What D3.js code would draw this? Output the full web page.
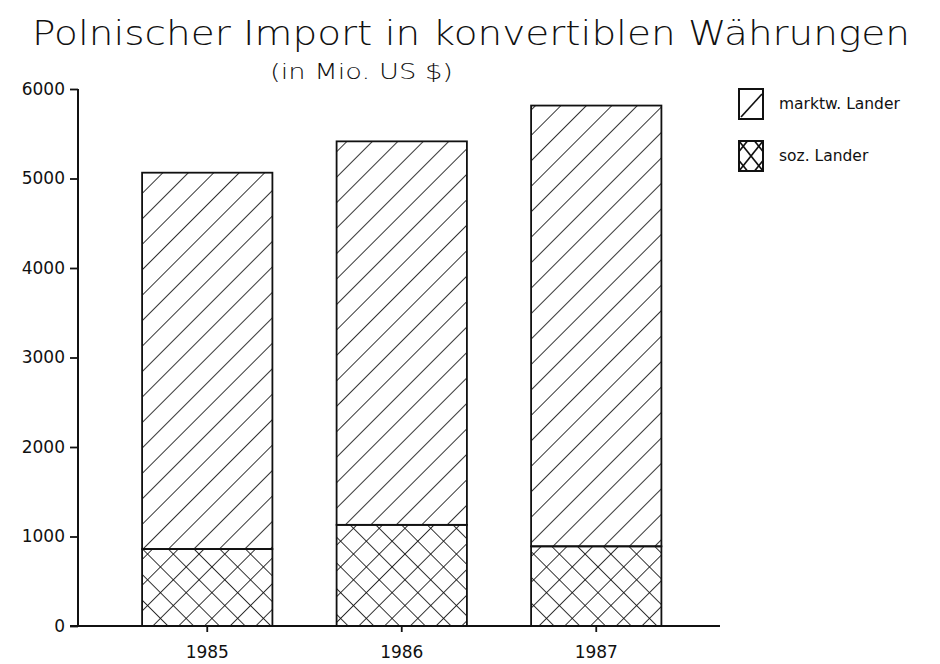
<!DOCTYPE html>
<html><head><meta charset="utf-8">
<script src="https://cdn.jsdelivr.net/npm/d3@7"></script>
<style>body{margin:0;background:#fff}</style></head>
<body><svg id="c" width="940" height="664"></svg>
<script>
const years = ["1985", "1986", "1987"];
const sozLander = [860, 1130, 890];
const marktwLander = [4205, 4285, 4925];
const yTicks = [0, 1000, 2000, 3000, 4000, 5000, 6000];
const seriesNames = ["marktw. Lander", "soz. Lander"];
const titleText = "Polnischer Import in konvertiblen Währungen";
const subtitleText = "(in Mio. US $)";

const svg = d3.select("#c");
const ink = "#111";
const font = "DejaVu Sans, Liberation Sans, sans-serif";

const defs = svg.append("defs");
const hatch = defs.append("pattern").attr("id", "hatch").attr("patternUnits", "userSpaceOnUse")
  .attr("width", 18).attr("height", 18).attr("patternTransform", "translate(4,0) rotate(45)");
hatch.append("line").attr("x1", 0).attr("y1", -2).attr("x2", 0).attr("y2", 20).attr("stroke", ink).attr("stroke-width", 1.7);
const cross = defs.append("pattern").attr("id", "cross").attr("patternUnits", "userSpaceOnUse")
  .attr("width", 18.2).attr("height", 18.2).attr("patternTransform", "translate(6,0) rotate(45)");
cross.append("line").attr("x1", 0).attr("y1", -2).attr("x2", 0).attr("y2", 21).attr("stroke", ink).attr("stroke-width", 1.7);
cross.append("line").attr("x1", -2).attr("y1", 0).attr("x2", 21).attr("y2", 0).attr("stroke", ink).attr("stroke-width", 1.7);

const x = d3.scaleBand().domain(years).range([110, 693.5]).paddingInner(0.33).paddingOuter(0.165);
const y = d3.scaleLinear().domain([0, 6000]).range([626, 89]);
const axisLeftX = 78, axisRightX = 720;

// bars
const data = years.map((yr, i) => ({ yr, soz: sozLander[i], mk: marktwLander[i] }));
const g = svg.append("g");
g.selectAll("rect.soz").data(data).join("rect").attr("class", "soz")
  .attr("x", d => x(d.yr)).attr("width", x.bandwidth())
  .attr("y", d => y(d.soz)).attr("height", d => y(0) - y(d.soz))
  .attr("fill", "url(#cross)").attr("stroke", ink).attr("stroke-width", 1.8);
g.selectAll("rect.mk").data(data).join("rect").attr("class", "mk")
  .attr("x", d => x(d.yr)).attr("width", x.bandwidth())
  .attr("y", d => y(d.soz + d.mk)).attr("height", d => y(d.soz) - y(d.soz + d.mk))
  .attr("fill", "url(#hatch)").attr("stroke", ink).attr("stroke-width", 1.8);

// y axis
const ya = svg.append("g").attr("transform", `translate(${axisLeftX},0)`)
  .call(d3.axisLeft(y).tickValues(yTicks).tickFormat(d3.format("d")).tickSize(8).tickPadding(5));
ya.select(".domain").attr("stroke", ink).attr("stroke-width", 2).attr("d", `M0,${y(6000)}V${y(0)}`);
ya.selectAll(".tick line").attr("stroke", ink).attr("stroke-width", 1.8);
ya.selectAll(".tick text").attr("font-family", font).attr("font-size", 17).attr("fill", ink);

// x axis
const xa = svg.append("g").attr("transform", `translate(0,${y(0)})`)
  .call(d3.axisBottom(x).tickSize(6).tickPadding(14));
xa.select(".domain").attr("stroke", ink).attr("stroke-width", 2).attr("d", `M${axisLeftX - 8},0H${axisRightX}`);
xa.selectAll(".tick line").attr("stroke", ink).attr("stroke-width", 1.8);
xa.selectAll(".tick text").attr("font-family", font).attr("font-size", 17).attr("fill", ink);

// titles
svg.append("text").attr("x", 32).attr("y", 45).attr("textLength", 878).attr("lengthAdjust", "spacingAndGlyphs")
  .attr("font-family", font).attr("font-weight", 200).attr("font-size", 34).attr("fill", ink).text(titleText);
svg.append("text").attr("x", 270).attr("y", 79).attr("textLength", 183).attr("lengthAdjust", "spacingAndGlyphs")
  .attr("font-family", font).attr("font-weight", 300).attr("font-size", 22).attr("fill", ink).text(subtitleText);

// legend
const lg = svg.append("g");
const lx = 739, ly = [89, 141], bw = 24, bh = 30;
seriesNames.forEach((name, i) => {
  const gy = ly[i];
  const b = lg.append("g");
  b.append("rect").attr("x", lx).attr("y", gy).attr("width", bw).attr("height", bh)
    .attr("fill", "none").attr("stroke", ink).attr("stroke-width", 2);
  if (i === 0) {
    b.append("line").attr("x1", lx + 2).attr("y1", gy + bh - 2).attr("x2", lx + bw - 1).attr("y2", gy + 5)
      .attr("stroke", ink).attr("stroke-width", 1.7);
  } else {
    const segs = [[0, 0, bw, bh], [bw, 0, 0, bh], [0, bh * 0.35, bw * 0.35, 0], [bw * 0.65, 0, bw, bh * 0.35],
      [0, bh * 0.65, bw * 0.35, bh], [bw * 0.65, bh, bw, bh * 0.65]];
    segs.forEach(s => b.append("line").attr("x1", lx + s[0]).attr("y1", gy + s[1]).attr("x2", lx + s[2]).attr("y2", gy + s[3])
      .attr("stroke", ink).attr("stroke-width", 1.7));
  }
  lg.append("text").attr("x", 779).attr("y", gy + bh / 2 + 5).attr("font-family", font).attr("font-size", 15.5)
    .attr("fill", ink).text(name);
});
</script></body></html>
